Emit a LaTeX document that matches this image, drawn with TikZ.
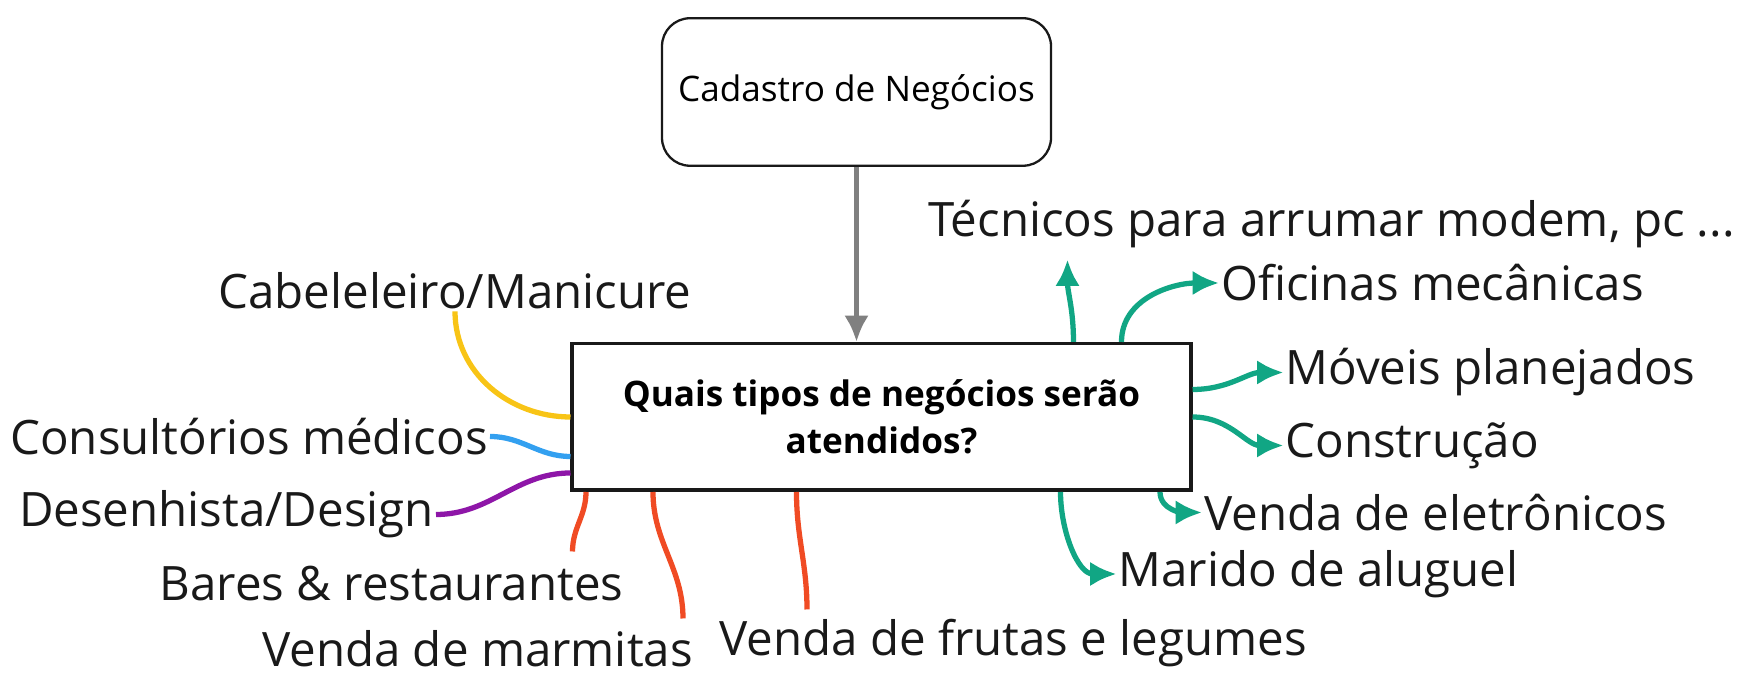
\documentclass[tikz,border=0pt]{standalone}
\usepackage{fontspec}
\setmainfont{Open Sans}
\usetikzlibrary{arrows.meta}
\definecolor{mm_yellow}{RGB}{248, 196, 22}
\definecolor{mm_blue}{RGB}{51, 160, 240}
\definecolor{mm_purple}{RGB}{142, 22, 168}
\definecolor{mm_red}{RGB}{240, 75, 36}
\definecolor{mm_teal}{RGB}{17, 166, 132}
\definecolor{mm_gray}{RGB}{128, 128, 128}
\tikzstyle{topbox}=[rectangle,rounded corners=0.56cm,draw=black!90,fill=white,
  line width=1.3pt,minimum width=7.78cm,minimum height=2.95cm,
  font=\fontsize{20}{24}\selectfont]
\tikzstyle{qbox}=[rectangle,draw=black!90,fill=white,line width=2.0pt,
  minimum width=12.37cm,minimum height=2.93cm,align=center,
  font=\fontsize{20}{27}\selectfont\bfseries]
\tikzstyle{lbl}=[inner sep=1pt,text=black!90,font=\fontsize{27}{32}\selectfont]
\tikzstyle{br}=[line width=3.0pt]
\tikzstyle{ar}=[line width=3.0pt,mm_teal,-{Latex[length=15pt,width=14pt]}]

\begin{document}
\begin{tikzpicture}
    \useasboundingbox (0,0) rectangle (35.06,13.78);
    \node [style=topbox] (top) at (17.13,11.94) {Cadastro de Negócios};
    \node [style=qbox] (q) at (17.63,5.44) {Quais tipos de negócios serão\\atendidos?};
    \node [style=lbl] (cab) at (9.10,7.96) {Cabeleleiro/Manicure};
    \node [style=lbl,anchor=east] (cons) at (9.80,5.05) {Consultórios médicos};
    \node [style=lbl,anchor=east] (des) at (8.72,3.49) {Desenhista/Design};
    \node [style=lbl] (bar) at (7.83,2.10) {Bares \& restaurantes};
    \node [style=lbl] (marm) at (9.55,0.80) {Venda de marmitas};
    \node [style=lbl] (fru) at (20.26,0.92) {Venda de frutas e legumes};
    \node [style=lbl] (tec) at (26.63,9.30) {Técnicos para arrumar modem, pc ...};
    \node [style=lbl,anchor=west] (ofi) at (24.38,8.12) {Oficinas mecânicas};
    \node [style=lbl,anchor=west] (mov) at (25.67,6.33) {Móveis planejados};
    \node [style=lbl,anchor=west] (con) at (25.67,4.87) {Construção};
    \node [style=lbl,anchor=west] (ele) at (24.04,3.53) {Venda de eletrônicos};
    \node [style=lbl,anchor=west] (mari) at (22.33,2.30) {Marido de aluguel};
    \coordinate (barend) at (11.45,2.75);
    \coordinate (marmend) at (13.66,1.41);
    \coordinate (fruend) at (16.14,1.59);
    \coordinate (tecend) at (21.35,8.59);
    \draw [line width=3.0pt,mm_gray,-{Latex[length=15pt,width=14pt]}] (top.south) -- (top.south |- q.north);
    \draw [style=br,mm_yellow] (cab.south) to[out=-90,in=180] (q.west);
    \draw [style=br,mm_blue] (cons.east) to[out=0,in=180] ([yshift=-0.79cm]q.west);
    \draw [style=br,mm_purple] (des.east) to[out=0,in=180] ([yshift=-1.12cm]q.west);
    \draw [style=br,mm_red] ([xshift=0.31cm]q.south west) to[out=-90,in=90] (barend);
    \draw [style=br,mm_red] ([xshift=1.65cm]q.south west) to[out=-90,in=90] (marmend);
    \draw [style=br,mm_red] ([xshift=4.52cm]q.south west) to[out=-90,in=90] (fruend);
    \draw [style=ar] ([xshift=10.06cm]q.north west) to[out=90,in=-90] (tecend);
    \draw [style=ar] ([xshift=11.02cm]q.north west) to[out=90,in=180] (ofi.west);
    \draw [style=ar] ([yshift=0.55cm]q.east) to[out=0,in=180] (mov.west);
    \draw [style=ar] (q.east) to[out=0,in=180] (con.west);
    \draw [style=ar] ([xshift=-0.65cm]q.south east) to[out=-90,in=180] (ele.west);
    \draw [style=ar] ([xshift=-2.64cm]q.south east) to[out=-90,in=180] (mari.west);
  \end{tikzpicture}
\end{document}
